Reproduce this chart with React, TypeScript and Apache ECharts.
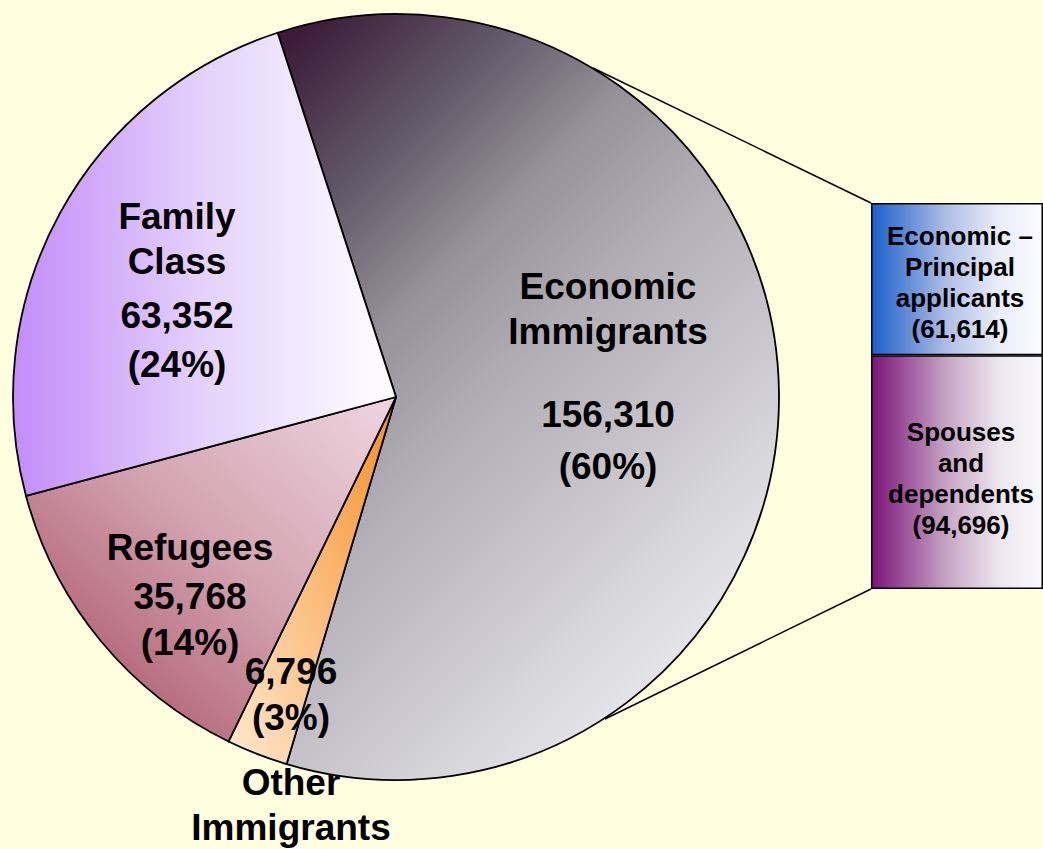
import React, { useEffect, useRef } from "react";
import * as echarts from "echarts";

// ---- data ----
const pieNames = ["Economic Immigrants", "Other Immigrants", "Refugees", "Family Class"];
const pieValues = [156310, 6796, 35768, 63352];
const barNames = ["Spouses and dependents", "Economic – Principal applicants"];
const barLabelLines = [
  ["Spouses", "and", "dependents"],
  ["Economic –", "Principal", "applicants"],
];
const barValues = [94696, 61614];

// ---- styles ----
const FONT = "'Liberation Sans', Arial, Helvetica, sans-serif";
const BG = "#ffffe0";

const lin = (
  x: number,
  y: number,
  x2: number,
  y2: number,
  stops: [number, string][],
  global = false
) =>
  new echarts.graphic.LinearGradient(
    x,
    y,
    x2,
    y2,
    stops.map(([offset, color]) => ({ offset, color })),
    global
  );

const pieColors = [
  lin(
    13,
    13,
    779,
    779,
    [
      [0, "#2e0c2c"],
      [0.2, "#3c1c3a"],
      [0.33, "#625868"],
      [0.45, "#96929a"],
      [0.57, "#b2b0b6"],
      [0.7, "#c9c7cd"],
      [0.85, "#e4e4e8"],
      [1, "#f8f8fa"],
    ],
    true
  ),
  lin(1, 0, 0, 1, [
    [0, "#f68e26"],
    [1, "#ffe9cf"],
  ]),
  lin(0, 1, 1, 0, [
    [0, "#a04458"],
    [0.55, "#d4a4b2"],
    [1, "#eed6e0"],
  ]),
  lin(0, 0, 1, 0, [
    [0, "#c48cf9"],
    [0.5, "#e4d2fc"],
    [1, "#ffffff"],
  ]),
];

const barColors = [
  lin(0, 0, 1, 0, [
    [0, "#7c147a"],
    [0.45, "#c8a8c6"],
    [0.75, "#ece6ee"],
    [1, "#f8f8fc"],
  ]),
  lin(0, 0, 1, 0, [
    [0, "#1c60cc"],
    [0.45, "#b2c0e6"],
    [0.75, "#eaeefa"],
    [1, "#fbfbff"],
  ]),
];

// label anchor points for each pie label (layout only)
const pieLabelPos = [
  [608, 378],
  [291, 749],
  [190, 593],
  [177, 291],
];

export default function App() {
  const ref = useRef<HTMLDivElement>(null);

  useEffect(() => {
    document.body.style.margin = "0";
    if (!ref.current) return;
    const chart = echarts.init(ref.current, undefined, { renderer: "svg" });

    const total = pieValues.reduce((a, b) => a + b, 0);
    const fmt = (v: number) => v.toLocaleString("en-US");
    const pct = (v: number) => `(${Math.round((v / total) * 100)}%)`;
    const barTotal = barValues.reduce((a, b) => a + b, 0);

    const pieFormatter = (p: any) => {
      const i = p.dataIndex;
      const words = pieNames[i].split(" ");
      const v = pieValues[i];
      if (i === 0)
        return `{n|${words[0]}}\n{n|${words[1]}}\n{s35| }\n{v52|${fmt(v)}}\n{v52|${pct(v)}}`;
      if (i === 1)
        return `{v46|${fmt(v)}}\n{v46|${pct(v)}}\n{s19| }\n{n|${words[0]}}\n{n|${words[1]}}`;
      if (i === 2) return `{n52|${words[0]}}\n{v46|${fmt(v)}}\n{v46|${pct(v)}}`;
      return `{n|${words[0]}}\n{n|${words[1]}}\n{s7| }\n{v49|${fmt(v)}}\n{v49|${pct(v)}}`;
    };

    const base = { fontSize: 37, fontWeight: "bold", fontFamily: FONT, color: "#000" };

    chart.setOption({
      animation: false,
      backgroundColor: BG,
      graphic: [
        {
          type: "line",
          z: 0,
          shape: { x1: 593, y1: 68, x2: 871, y2: 203 },
          style: { stroke: "#000", lineWidth: 1.5 },
        },
        {
          type: "line",
          z: 0,
          shape: { x1: 605, y1: 719, x2: 871, y2: 589 },
          style: { stroke: "#000", lineWidth: 1.5 },
        },
      ],
      grid: { left: 871, top: 203, width: 172, height: 386 },
      xAxis: { type: "category", data: ["Economic"], show: false },
      yAxis: { type: "value", min: 0, max: barTotal, show: false },
      series: [
        {
          type: "pie",
          z: 5,
          center: [396, 397],
          radius: 383,
          startAngle: 108,
          clockwise: true,
          silent: true,
          avoidLabelOverlap: false,
          itemStyle: { borderColor: "#000", borderWidth: 1.8 },
          emphasis: { disabled: true },
          data: pieNames.map((name, i) => ({
            name,
            value: pieValues[i],
            itemStyle: { color: pieColors[i] },
          })),
          label: {
            show: true,
            position: "inside",
            ...base,
            formatter: pieFormatter,
            rich: {
              n: { ...base, lineHeight: 45 },
              n52: { ...base, lineHeight: 52 },
              v46: { ...base, lineHeight: 46 },
              v49: { ...base, lineHeight: 49 },
              v52: { ...base, lineHeight: 52 },
              s7: { ...base, fontSize: 6, lineHeight: 7 },
              s19: { ...base, fontSize: 12, lineHeight: 19 },
              s35: { ...base, fontSize: 20, lineHeight: 35 },
            },
          },
          labelLine: { show: false },
          labelLayout: (p: any) => ({
            x: pieLabelPos[p.dataIndex][0],
            y: pieLabelPos[p.dataIndex][1],
            align: "center",
            verticalAlign: "middle",
          }),
        },
        ...barValues.map((v, i) => ({
          type: "bar",
          name: barNames[i],
          stack: "econ",
          barWidth: "100%",
          silent: true,
          data: [v],
          itemStyle: { color: barColors[i], borderColor: "#000", borderWidth: 1.5 },
          label: {
            show: true,
            position: "inside",
            offset: i === 0 ? [4, 6] : [3, 3],
            formatter: () => `${barLabelLines[i].join("\n")}\n(${fmt(v)})`,
            fontSize: 26,
            lineHeight: 31,
            fontWeight: "bold",
            fontFamily: FONT,
            color: "#000",
            align: "center",
          },
        })),
      ],
    });

    return () => chart.dispose();
  }, []);

  return <div ref={ref} style={{ width: 1043, height: 849 }} />;
}
